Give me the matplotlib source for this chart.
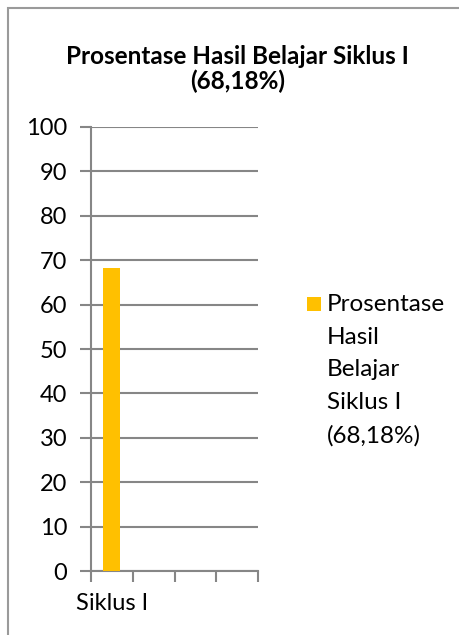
import matplotlib.pyplot as plt
from matplotlib.patches import Rectangle

# Data
kategori = ["Siklus I", "", "", ""]
nilai = [68.18]
label_seri = "Prosentase\nHasil\nBelajar\nSiklus I\n(68,18%)"
judul = "Prosentase Hasil Belajar Siklus I\n(68,18%)"
y_ticks = list(range(0, 101, 10))

plt.rcParams['font.family'] = ['Lato', 'DejaVu Sans']

abu = '#868686'
kuning = '#FFC000'

fig = plt.figure(figsize=(4.59, 6.35), dpi=100)
fig.patch.set_facecolor('white')

# bingkai grafik (mulai 8 px dari kiri/atas, keluar dari tepi kanan/bawah)
W, H = 459, 635
fig.patches.append(Rectangle((8 / W, -0.1), 1.2, 1 - 8 / H + 0.1, transform=fig.transFigure,
                             fill=False, edgecolor='#9a9a9a', linewidth=1.5))

ax = fig.add_axes([91 / W, 1 - 571 / H, (258 - 91) / W, (571 - 127) / H])

ax.bar([0.5], nilai, width=0.41, color=kuning, zorder=3)

ax.set_xlim(0, len(kategori))
ax.set_ylim(0, 100)
ax.set_yticks(y_ticks)
ax.yaxis.grid(True, color=abu, linewidth=1.5, zorder=0)
ax.tick_params(axis='y', length=8, width=1.5, color=abu, labelsize=17, pad=9, labelcolor='black')

ax.set_xticks(range(len(kategori) + 1))
ax.set_xticklabels([])
ax.set_xticks([i + 0.5 for i in range(len(kategori))], minor=True)
ax.set_xticklabels(kategori, minor=True)
ax.tick_params(axis='x', which='major', length=8, width=1.5, color=abu)
ax.tick_params(axis='x', which='minor', length=0, labelsize=17, pad=16)

for s in ['top', 'right']:
    ax.spines[s].set_visible(False)
for s in ['left', 'bottom']:
    ax.spines[s].set_color(abu)
    ax.spines[s].set_linewidth(1.5)

# judul
fig.text(0.518, 1 - 69 / H, judul, ha='center', va='center', fontsize=17.5,
         fontweight='bold', linespacing=1.1)

# legenda manual
fig.patches.append(Rectangle((307 / W, 1 - 311 / H), 14 / W, 14 / H, transform=fig.transFigure,
                             facecolor=kuning, edgecolor='none'))
fig.text(327 / W, 1 - 294 / H, label_seri, ha='left', va='top', fontsize=17.5, linespacing=1.68)

fig.savefig('out.png', dpi=100)
